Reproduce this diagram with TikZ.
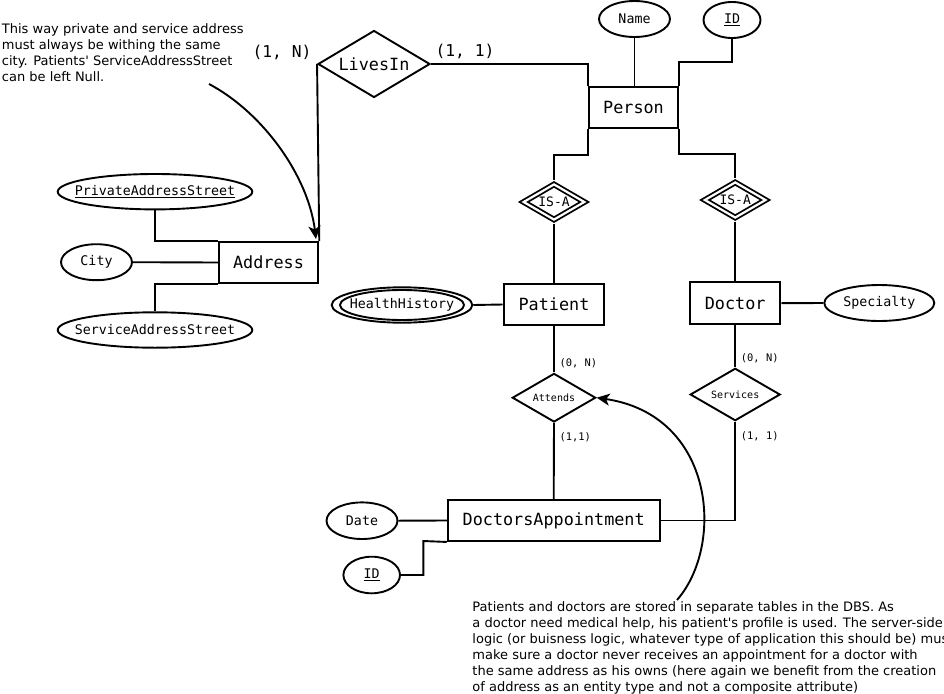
\documentclass[tikz,border=0pt]{standalone}
\usepackage{fontspec}
\setmainfont{DejaVu Sans}[Ligatures=TeXOff]
\setmonofont{DejaVu Sans Mono}
\usetikzlibrary{shapes.geometric,arrows.meta,calc}
\newcommand{\zb}[1]{\makebox[0pt]{#1}}
\begin{document}
\begin{tikzpicture}[x=1pt,y=-1pt,line width=1.9pt,
  entity/.style={draw,rectangle,inner sep=0pt,font=\fontsize{16.8}{16.8}\selectfont\ttfamily},
  attr/.style={draw,ellipse,inner sep=0pt,font=\fontsize{13.3}{13.3}\selectfont\ttfamily},
  rel/.style={draw,diamond,inner sep=0pt},
  bigcard/.style={inner sep=0pt,font=\fontsize{16.3}{16.3}\selectfont\ttfamily},
  card/.style={inner sep=0pt,anchor=west,font=\fontsize{10.4}{10.4}\selectfont\ttfamily},
  note/.style={inner sep=0pt,anchor=north west,align=left,font=\fontsize{13}{16}\selectfont},
  arr/.style={line width=1.9pt,-{Stealth[length=13pt,width=12pt,inset=3.5pt]}}]
\useasboundingbox (0,0) rectangle (944,693);

% entities
\node[entity,minimum width=89pt,minimum height=41pt] (person) at (633.5,107.3) {Person};
\node[entity,minimum width=99.6pt,minimum height=41pt] (address) at (268.5,262.5) {Address};
\node[entity,minimum width=100.7pt,minimum height=41.6pt] (patient) at (554,304.5) {Patient};
\node[entity,minimum width=90.3pt,minimum height=41.7pt] (doctor) at (735.2,303.2) {Doctor};
\node[entity,minimum width=212pt,minimum height=41pt] (da) at (553.7,520.5) {DoctorsAppointment};

% attributes
\node[attr,minimum width=71pt,minimum height=36pt] (name) at (634.5,19) {\zb{Name}};
\node[attr,minimum width=57pt,minimum height=36pt] (pid) at (732,20) {\zb{\underline{ID}}};
\node[attr,minimum width=110pt,minimum height=36pt] (spec) at (879.3,303) {\zb{Specialty}};
\node[attr,minimum width=140.6pt,minimum height=35.4pt] (hh) at (402,305) {\zb{HealthHistory}};
\draw (hh.center) ellipse [x radius=62, y radius=15];
\node[attr,minimum width=194.6pt,minimum height=35.4pt] (pas) at (155,191.7) {\zb{\underline{PrivateAddressStreet}}};
\node[attr,minimum width=71pt,minimum height=36pt] (city) at (96.5,262.2) {\zb{City}};
\node[attr,minimum width=194.6pt,minimum height=35.4pt] (sas) at (155,330) {\zb{ServiceAddressStreet}};
\node[attr,minimum width=71pt,minimum height=36.6pt] (date) at (362,520.7) {\zb{Date}};
\node[attr,minimum width=56.6pt,minimum height=36.6pt] (aid) at (371.7,575) {\zb{\underline{ID}}};

% relationships
\node[rel,shape aspect=1.67,minimum width=112pt,minimum height=67pt,font=\fontsize{16.8}{16.8}\selectfont\ttfamily] (livesin) at (374,64) {LivesIn};
\node[rel,shape aspect=1.68,double,double distance=2.2pt,line width=1.8pt,outer sep=2.8pt,minimum width=63pt,minimum height=37.5pt,font=\fontsize{13}{13}\selectfont\ttfamily] (isaP) at (554,202) {IS-A};
\node[rel,shape aspect=1.68,double,double distance=2.2pt,line width=1.8pt,outer sep=2.8pt,minimum width=63pt,minimum height=37.5pt,font=\fontsize{13}{13}\selectfont\ttfamily] (isaD) at (735.2,200) {IS-A};
\node[rel,shape aspect=1.72,minimum width=83.4pt,minimum height=48.6pt,font=\fontsize{10}{10}\selectfont\ttfamily] (attends) at (554,397.7) {Attends};
\node[rel,shape aspect=1.72,minimum width=90pt,minimum height=52.4pt,font=\fontsize{10}{10}\selectfont\ttfamily] (services) at (735.2,394.5) {Services};

% cardinalities
\node[bigcard] (cLN) at (282,52) {(1, N)};
\node[bigcard] (cL1) at (465,51) {(1, 1)};
\node[card] (cAN) at (558.7,363.3) {(0, N)};
\node[card] (cA1) at (558.7,437.3) {(1,1)};
\node[card] (cSN) at (740,358.3) {(0, N)};
\node[card] (cS1) at (740,436.7) {(1, 1)};

% connectors
\draw (livesin.west) -- (address.north east);
\draw (livesin.east) -| (person.north west);
\draw (name.south) -- (name.south |- person.north);
\coordinate (idbend) at (732,62);
\draw (pid.south) -- (idbend) -| (person.north east);
\draw (person.south west) -- ++(0,26) -| (isaP.north);
\draw (person.south east) -- ++(0,25) -| (isaD.north);
\draw (isaP.south) -- (patient.north);
\draw (isaD.south) -- (doctor.north);
\draw (hh.east) -- (patient.west);
\draw (doctor.east) -- (spec.west);
\draw (patient.south) -- (attends.north);
\draw (attends.south) -- (da.north);
\draw (doctor.south) -- (services.north);
\draw (services.south) |- (da.east);
\draw (date.east) -- (da.west);
\coordinate (aidbend) at (423.3,541);
\draw (aid.east) -| (aidbend) -- (da.south west);
\draw (pas.south) |- (address.north west);
\draw (city.east) -- (address.west);
\draw (sas.north) |- (address.south west);

% notes
\node[note] (note1) at (1,23) {This way private and service address\\must always be withing the same\\city. Patients' ServiceAddressStreet\\can be left Null.};
\node[note] (note2) at (471.5,600.8) {Patients and doctors are stored in separate tables in the DBS. As\\a doctor need medical help, his patient's profile is used. The server-side\\logic (or buisness logic, whatever type of application this should be) must\\make sure a doctor never receives an appointment for a doctor with\\the same address as his owns (here again we benefit from the creation\\of address as an entity type and not a composite attribute)};

% annotation arrows
\coordinate (a1s) at (209,84);
\coordinate (a1e) at (316,239);
\draw[arr] (a1s) .. controls (262,112) and (308,175) .. (a1e);
\coordinate (a2s) at (677,600);
\draw[arr] (a2s) .. controls (725,545) and (715,415) .. (attends.east);
\end{tikzpicture}
\end{document}
